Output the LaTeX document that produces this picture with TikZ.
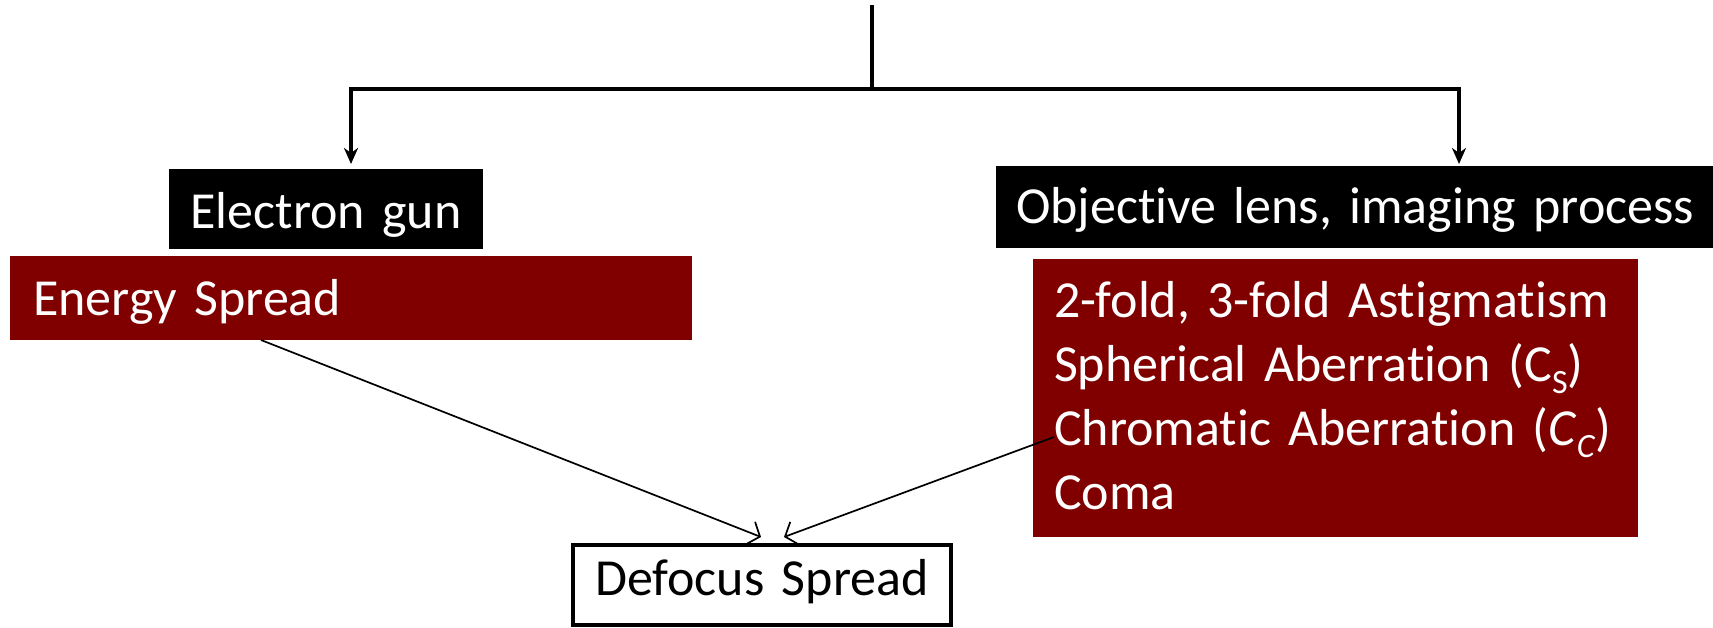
\documentclass[tikz,border=0pt]{standalone}
\usepackage{fontspec}
\setmainfont{Carlito}[Ligatures=NoCommon]
\usetikzlibrary{arrows.meta,calc}
\definecolor{darkred}{RGB}{128,0,0}
\begin{document}
\begin{tikzpicture}[x=1pt,y=-1pt,
  every node/.style={inner sep=0pt, outer sep=0pt, font=\fontsize{52}{62}\selectfont},
  header/.style={fill=black, text=white, anchor=north west, align=center},
  causebox/.style={fill=darkred, text=white, anchor=north west, align=left},
  resultbox/.style={draw=black, line width=4pt, fill=white, anchor=north west, align=center},
  bus/.style={line width=4pt},
  feed/.style={line width=4pt, line join=miter, -{Stealth[length=16pt,width=14pt,inset=5pt]}},
  link/.style={line width=1.7pt, -{Straight Barb[length=10pt,width=24pt]}}]
\useasboundingbox (0,0) rectangle (1713,627);

% source headers
\node[header, text width=314pt, text height=59pt, text depth=21pt] (gun) at (169,169) {Electron gun};
\node[header, text width=718pt, text height=57pt, text depth=25pt] (lens) at (996,166) {Objective lens, imaging process};

% contributing effects
\node[causebox, text width=636pt, inner xsep=23pt, text height=59pt, text depth=25pt] (energy) at (10,256) {Energy Spread};
\node[causebox, text width=563pt, inner xsep=21pt, text height=58pt, text depth=220pt] (aberr) at (1033,259)
  {\vtop{\baselineskip=64.3pt
    \hbox{2-fold, 3-fold Astigmatism}
    \hbox{Spherical Aberration (C\raisebox{-12pt}{\fontsize{34}{0}\selectfont S})}
    \hbox{Chromatic Aberration (\textit{C}\raisebox{-12pt}{\fontsize{34}{0}\selectfont\textit{C}})}
    \hbox{Coma}}};

% result
\node[resultbox, text width=378pt, text height=50pt, text depth=30pt] (defocus) at (573,545) {Defocus Spread};

% branching feed from the top
\coordinate (feedtop) at (872,5);
\coordinate (split) at (872,89);
\coordinate (gunIn) at ($(gun.north west)+(182,-5)$);
\coordinate (lensIn) at ($(lens.north west)+(463,-2)$);
\draw[bus] (feedtop) -- (split);
\draw[feed] (split) -| (gunIn);
\draw[feed] (split) -| (lensIn);

% links into the defocus spread
\draw[link] ($(energy.south west)+(251,0)$) -- ($(defocus.north west)+(188,-8)$);
\draw[link] ($(aberr.north west)+(21,178)$) -- ($(defocus.north west)+(211,-8)$);
\end{tikzpicture}
\end{document}
